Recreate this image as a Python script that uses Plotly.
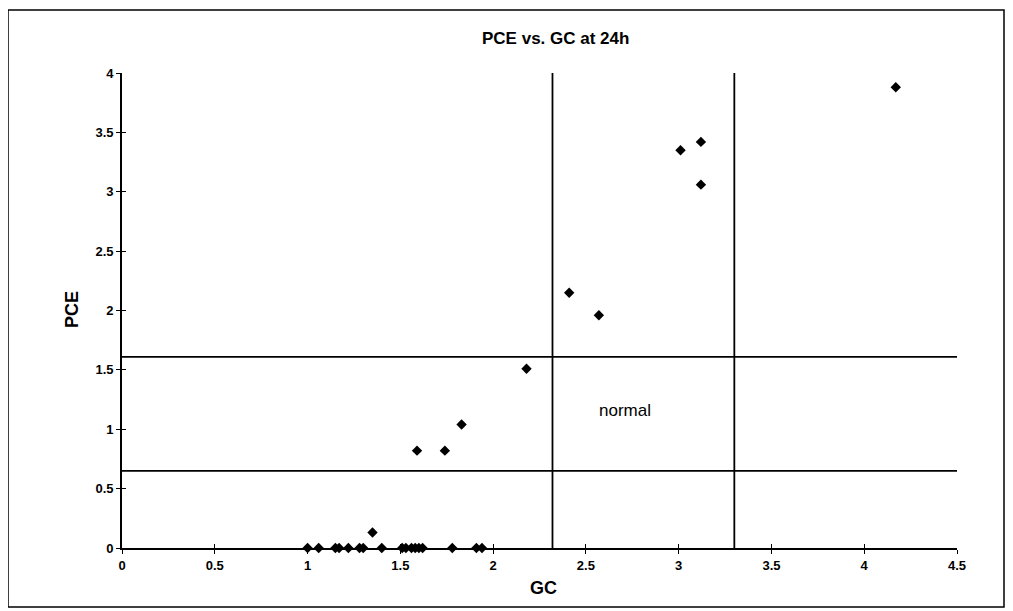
import plotly.graph_objects as go

gc = [1.00, 1.06, 1.15, 1.17, 1.22, 1.28, 1.30, 1.35, 1.40, 1.51, 1.53, 1.56, 1.58, 1.60, 1.62,
      1.78, 1.91, 1.94, 1.59, 1.74, 1.83, 2.18, 2.41, 2.57, 3.01, 3.12, 3.12, 4.17]
pce = [0, 0, 0, 0, 0, 0, 0, 0.13, 0, 0, 0, 0, 0, 0, 0,
       0, 0, 0, 0.82, 0.82, 1.04, 1.51, 2.15, 1.96, 3.35, 3.42, 3.06, 3.88]

vlines_gc = [2.32, 3.30]
hlines_pce = [0.65, 1.61]
x_ticks = [0, 0.5, 1, 1.5, 2, 2.5, 3, 3.5, 4, 4.5]
y_ticks = [0, 0.5, 1, 1.5, 2, 2.5, 3, 3.5, 4]

OFF = 8  # page body margin
W, H = 1013 - OFF, 611 - OFF
L, R, T, B = 122 - OFF, 56, 73 - OFF, 63
FONT = "Liberation Sans, Arial, sans-serif"

fig = go.Figure()
fig.add_trace(go.Scatter(x=gc, y=pce, mode="markers",
                         marker=dict(symbol="diamond", size=8, color="black"),
                         cliponaxis=False, showlegend=False))

for v in vlines_gc:
    fig.add_shape(type="line", x0=v, x1=v, y0=0, y1=4, xref="x", yref="y",
                  line=dict(color="black", width=1.8))
for h in hlines_pce:
    fig.add_shape(type="line", x0=0, x1=4.5, y0=h, y1=h, xref="x", yref="y",
                  line=dict(color="black", width=1.8))

pw, ph = W - L - R, H - T - B
def px2x(p):
    return (p - OFF - L) / pw
def py2y(p):
    return (H - B - (p - OFF)) / ph
fig.add_shape(type="rect", xref="paper", yref="paper",
              x0=px2x(8), x1=px2x(1004), y0=py2y(10), y1=py2y(607),
              line=dict(color="black", width=1.5))

anc = dict(xanchor="center", yanchor="middle", showarrow=False)
fig.add_annotation(x=2.71, y=1.16, xref="x", yref="y", text="normal",
                   font=dict(family=FONT, size=17, color="black"), **anc)
fig.add_annotation(x=px2x(555), y=py2y(38), xref="paper", yref="paper",
                   text="<b>PCE vs. GC at 24h</b>",
                   font=dict(family=FONT, size=17, color="black"), **anc)
fig.add_annotation(x=px2x(543), y=py2y(588), xref="paper", yref="paper",
                   text="<b>GC</b>",
                   font=dict(family=FONT, size=18, color="black"), **anc)
fig.add_annotation(x=px2x(72), y=py2y(310), xref="paper", yref="paper",
                   text="<b>PCE</b>", textangle=-90,
                   font=dict(family=FONT, size=18, color="black"), **anc)

tickfont = dict(family=FONT, size=13, color="black")
fig.update_layout(
    width=W, height=H, margin=dict(l=L, r=R, t=T, b=B),
    paper_bgcolor="white", plot_bgcolor="white",
    xaxis=dict(range=[0, 4.5], tickvals=x_ticks, ticktext=[f"<b>{v:g}</b>" for v in x_ticks],
               showgrid=False, zeroline=False, showline=True, linecolor="black", linewidth=1.8,
               ticks="outside", ticklen=4, tickcolor="black", tickwidth=1.2, tickfont=tickfont),
    yaxis=dict(range=[0, 4], tickvals=y_ticks, ticktext=[f"<b>{v:g}</b>" for v in y_ticks],
               showgrid=False, zeroline=False, showline=True, linecolor="black", linewidth=1.8,
               ticks="outside", ticklen=4, tickcolor="black", tickwidth=1.2, tickfont=tickfont),
    xaxis2=dict(range=[0, 4.5], overlaying="x", tickvals=x_ticks, showticklabels=False,
                showgrid=False, zeroline=False, showline=False, ticks="inside", ticklen=4,
                tickcolor="black", tickwidth=1.2, side="bottom"),
    yaxis2=dict(range=[0, 4], overlaying="y", tickvals=y_ticks, showticklabels=False,
                showgrid=False, zeroline=False, showline=False, ticks="inside", ticklen=4,
                tickcolor="black", tickwidth=1.2, side="left"),
)
fig.add_trace(go.Scatter(x=[None], y=[None], xaxis="x2", yaxis="y2", showlegend=False))

fig.write_html("out.html")
